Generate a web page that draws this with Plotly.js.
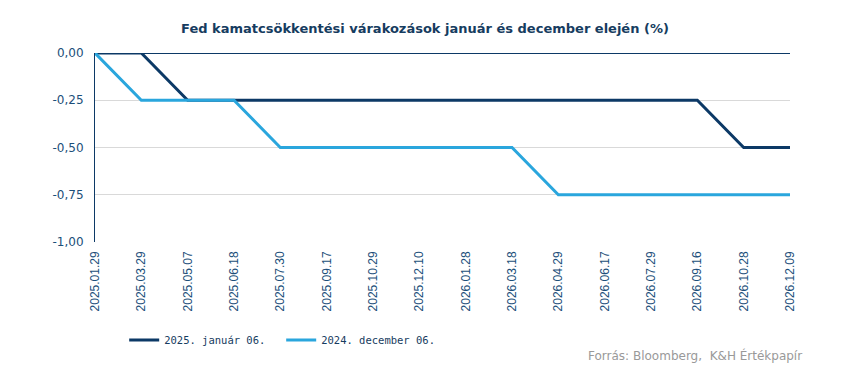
<!DOCTYPE html>
<html><head><meta charset="utf-8">
<script src="https://cdn.plot.ly/plotly-3.0.1.min.js"></script>
<style>html,body{margin:0;padding:0;background:#fff;}#chart{width:850px;height:366px;}</style>
</head><body><div id="chart"></div>
<script>
const categories = ["2025.01.29","2025.03.29","2025.05.07","2025.06.18","2025.07.30","2025.09.17","2025.10.29","2025.12.10","2026.01.28","2026.03.18","2026.04.29","2026.06.17","2026.07.29","2026.09.16","2026.10.28","2026.12.09"];
const seriesJan = [0,0,-0.25,-0.25,-0.25,-0.25,-0.25,-0.25,-0.25,-0.25,-0.25,-0.25,-0.25,-0.25,-0.5,-0.5];
const seriesDec = [0,-0.25,-0.25,-0.25,-0.5,-0.5,-0.5,-0.5,-0.5,-0.5,-0.75,-0.75,-0.75,-0.75,-0.75,-0.75];
const yTicks = [0,-0.25,-0.5,-0.75,-1];
const yTickText = ["0,00","-0,25","-0,50","-0,75","-1,00"];

const traces = [
  {x: categories, y: seriesJan, type:'scatter', mode:'lines', name:'2025. január 06.', line:{color:'#0c3966', width:3}},
  {x: categories, y: seriesDec, type:'scatter', mode:'lines', name:'2024. december 06.', line:{color:'#2aa6dd', width:3}}
];
const layout = {
  width:850, height:366,
  margin:{l:95, r:60, t:53, b:124},
  paper_bgcolor:'#fff', plot_bgcolor:'#fff',
  title:{text:'<b>Fed kamatcsökkentési várakozások január és december elején (%)</b>', x:0.5, xanchor:'center', y:0.922, yanchor:'middle', font:{family:'DejaVu Sans', size:13, color:'#163c60'}},
  xaxis:{type:'category', range:[0,15], showgrid:false, zeroline:false, showline:false, ticks:'', ticklabelstandoff:6, tickangle:-90, tickfont:{family:'Liberation Sans, Arial', size:12, color:'#1c4f7a'}, fixedrange:true},
  yaxis:{range:[-1,0], tickvals:yTicks, ticktext:yTickText, showgrid:true, gridcolor:'#d9d9d9', gridwidth:1, zeroline:true, zerolinecolor:'#0c3966', zerolinewidth:1, showline:true, linecolor:'#0c3966', linewidth:1, ticks:'', ticklabelstandoff:8, tickfont:{family:'DejaVu Sans', size:12, color:'#1c4f7a'}, fixedrange:true},
  showlegend:true,
  legend:{orientation:'h', x:0.042, xanchor:'left', y:-0.5185, yanchor:'middle', font:{family:'DejaVu Sans Mono', size:10.5, color:'#163c60'}, itemwidth:30, tracegroupgap:0, entrywidth:112},
  annotations:[{text:'Forrás: Bloomberg,  K&H Értékpapír', xref:'paper', yref:'paper', x:1.02, xanchor:'right', y:-0.598, yanchor:'middle', showarrow:false, font:{family:'DejaVu Sans', size:12, color:'#999999'}}]
};
Plotly.newPlot('chart', traces, layout, {displayModeBar:false, staticPlot:true});
</script></body></html>
